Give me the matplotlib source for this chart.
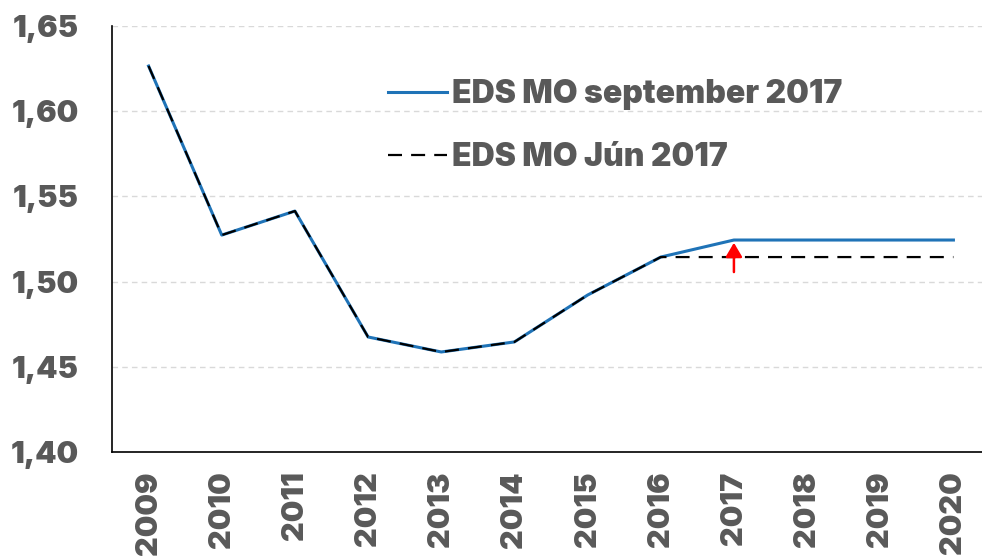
import matplotlib
matplotlib.use("Agg")
import matplotlib.pyplot as plt

years = ["2009", "2010", "2011", "2012", "2013", "2014", "2015", "2016", "2017", "2018", "2019", "2020"]
eds_sep = [1.6265, 1.5273, 1.5414, 1.4675, 1.4587, 1.4646, 1.4921, 1.5144, 1.5244, 1.5244, 1.5244, 1.5244]
eds_jun = [1.6265, 1.5273, 1.5414, 1.4675, 1.4587, 1.4646, 1.4921, 1.5144, 1.5144, 1.5144, 1.5144, 1.5144]
yticks = [1.40, 1.45, 1.50, 1.55, 1.60, 1.65]
ytick_labels = ["1,40", "1,45", "1,50", "1,55", "1,60", "1,65"]

plt.rcParams['font.family'] = ['Inter', 'DejaVu Sans']
gray = "#595959"
W = 900

fig = plt.figure(figsize=(9.82, 5.59), dpi=100)
ax = fig.add_axes([112/982, 1-452/559, (990-112)/982, (452-26)/559])

x = list(range(len(years)))
ax.plot(x, eds_sep, color="#1f73b7", lw=2.2, label="EDS MO september 2017", zorder=3)
ax.plot(x, eds_jun, color="black", lw=1.6, ls=(0, (6.3, 4.1)), label="EDS MO Jún 2017", zorder=4)

ax.annotate("", xy=(8, 1.5228), xytext=(8, 1.5056),
            arrowprops=dict(arrowstyle="-|>,head_width=0.5,head_length=0.85", color="red",
                            lw=1.8, shrinkA=0, shrinkB=0),
            zorder=5)

ax.set_xlim(-0.5, len(years) - 0.5)
ax.set_ylim(1.40, 1.65)
ax.set_yticks(yticks)
ax.set_yticklabels(ytick_labels)
ax.set_xticks(x)
ax.set_xticklabels(years, rotation=90)
ax.tick_params(axis='both', length=0, colors=gray)
for lbl in ax.get_yticklabels():
    lbl.set_fontsize(22); lbl.set_fontweight(W); lbl.set_color(gray)
for lbl in ax.get_xticklabels():
    lbl.set_fontsize(22); lbl.set_fontweight(W); lbl.set_color(gray)
ax.tick_params(axis='y', pad=24)
ax.tick_params(axis='x', pad=14)

ax.grid(axis='y', color="#d9d9d9", ls=(0, (4, 3)), lw=1)
ax.set_axisbelow(True)
for s in ["top", "right"]:
    ax.spines[s].set_visible(False)
for s in ["left", "bottom"]:
    ax.spines[s].set_color("black")
    ax.spines[s].set_linewidth(1.2)

leg = ax.legend(loc="upper left", bbox_to_anchor=(0.2813, 0.943), frameon=False,
                prop=dict(size=23, weight=W), handlelength=1.85, handletextpad=0.15,
                labelspacing=1.0)
for t in leg.get_texts():
    t.set_color(gray)

fig.savefig("out.png", dpi=100)
